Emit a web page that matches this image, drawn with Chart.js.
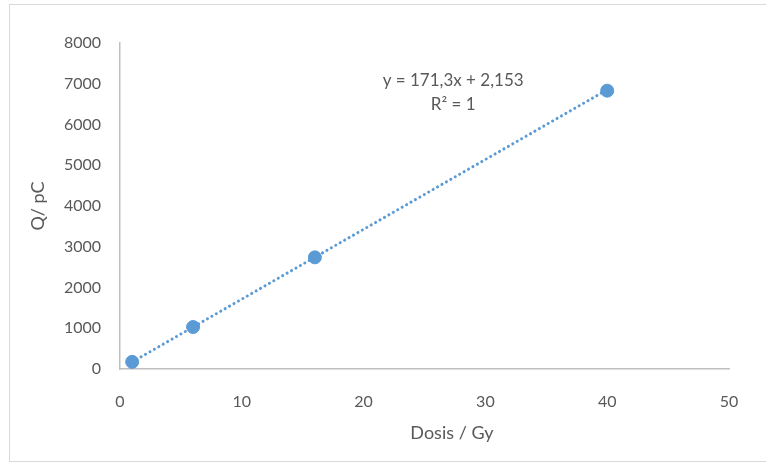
<!DOCTYPE html>
<html>
<head>
<meta charset="utf-8">
<script src="https://cdn.jsdelivr.net/npm/chart.js@4"></script>
<style>
  html, body { margin: 0; padding: 0; background: #fff; }
  #wrap { width: 766px; height: 466px; position: relative; }
</style>
</head>
<body>
<div id="wrap"><canvas id="myChart" width="766" height="466"></canvas></div>
<script>
// measured points (Dosis / Gy vs Q / pC)
const dosis = [1, 6, 16, 40];
const charge = [175, 1030, 2740, 6830];
// linear trendline shown in the picture
const slope = 171.3;
const intercept = 2.153;
const trendX = [1, 40];
const xTicks = [0, 10, 20, 30, 40, 50];
const yTicks = [0, 1000, 2000, 3000, 4000, 5000, 6000, 7000, 8000];
const eqLines = ["y = 171,3x + 2,153", "R\u00b2 = 1"];
const xTitle = "Dosis / Gy";

const blue = "#5b9bd5";
const textCol = "#595959";
const axisCol = "#bfbfbf";
const fontFam = "Lato, 'Open Sans', sans-serif";

//frame, equation text, x title
const extras = {
  id: "extras",
  beforeDraw(chart) {
    const ctx = chart.ctx;
    ctx.save();
    ctx.strokeStyle = "#d9d9d9";
    ctx.lineWidth = 1;
    ctx.strokeRect(9.5, 4.5, 780, 457);
    ctx.restore();
  },
  afterDraw(chart) {
    const ctx = chart.ctx;
    const a = chart.chartArea;
    ctx.save();
    ctx.fillStyle = textCol;
    ctx.font = "17px " + fontFam;
    ctx.textAlign = "center";
    ctx.textBaseline = "middle";
    const cx = a.left + (a.right - a.left) * 0.547;
    ctx.fillText(eqLines[0], cx, a.top + 38);
    ctx.fillText(eqLines[1], cx, a.top + 62);
    ctx.font = "18px " + fontFam;
    ctx.fillText(xTitle, a.left + (a.right - a.left) * 0.545, a.bottom + 64);
    ctx.restore();
  },
};

const ctx = document.querySelector("#myChart");
new Chart(ctx, {
  type: "scatter",
  data: {
    datasets: [
      {
        label: "trend",
        data: trendX.map((x) => ({ x: x, y: slope * x + intercept })),
        showLine: true,
        borderColor: blue,
        borderWidth: 3,
        borderDash: [0.1, 5],
        borderCapStyle: "round",
        pointRadius: 0,
        fill: false,
      },
      {
        label: "Q",
        data: dosis.map((x, i) => ({ x: x, y: charge[i] })),
        backgroundColor: blue,
        borderColor: blue,
        pointRadius: 6.5,
        pointHoverRadius: 6.5,
      },
    ],
  },
  options: {
    responsive: false,
    animation: false,
    layout: { padding: { left: 0, right: 37, top: 43, bottom: 0 } },
    plugins: { legend: { display: false }, tooltip: { enabled: false } },
    scales: {
      x: {
        type: "linear",
        min: 0,
        max: 50,
        afterBuildTicks: (s) => { s.ticks = xTicks.map((v) => ({ value: v })); },
        afterFit: (s) => { s.height = 97; },
        grid: { display: false, drawTicks: false },
        border: { color: axisCol, width: 1.5 },
        ticks: {
          color: textCol,
          font: { family: fontFam, size: 16 },
          padding: 23,
          callback: (v) => String(v),
        },
        title: { display: false },
      },
      y: {
        min: 0,
        max: 8000,
        afterBuildTicks: (s) => { s.ticks = yTicks.map((v) => ({ value: v })); },
        afterFit: (s) => { s.width = 120; },
        grid: { display: false, drawTicks: false },
        border: { color: axisCol, width: 1.5 },
        ticks: {
          color: textCol,
          font: { family: fontFam, size: 16 },
          padding: 19,
          callback: (v) => String(v),
        },
        title: {
          display: true,
          text: "Q/ pC",
          color: textCol,
          font: { family: fontFam, size: 18 },
          padding: { top: 27, bottom: 0 },
        },
      },
    },
  },
  plugins: [extras],
});
</script>
</body>
</html>
